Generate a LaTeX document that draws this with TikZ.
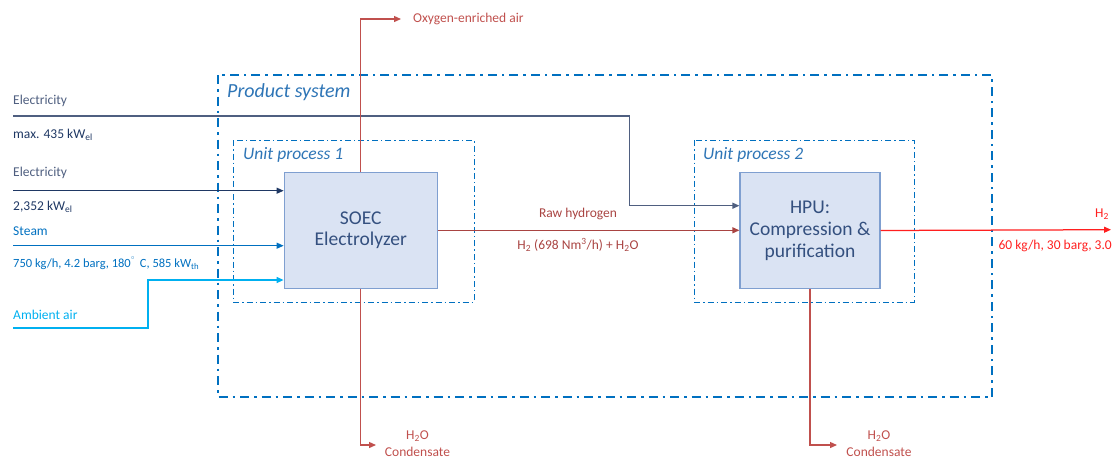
\documentclass[tikz,border=0pt]{standalone}
\usepackage{fontspec}
\setmainfont{Carlito}
\usetikzlibrary{arrows.meta}
\definecolor{psblue}{HTML}{0070C0}
\definecolor{uplabel}{HTML}{2E75B6}
\definecolor{boxfill}{HTML}{DAE3F3}
\definecolor{boxdraw}{HTML}{7F9FD0}
\definecolor{boxtext}{HTML}{34507F}
\definecolor{elecA}{HTML}{4F5F80}
\definecolor{elecB}{HTML}{1F3864}
\definecolor{steamc}{HTML}{0070C0}
\definecolor{airc}{HTML}{00B0F0}
\definecolor{redc}{HTML}{C0504D}
\definecolor{rawc}{HTML}{A94442}
\definecolor{h2c}{HTML}{FF1F1F}
\tikzset{
  tip/.style={-{Triangle[length=7pt,width=6pt]}},
  flow/.style={line width=1.25pt},
  lbl/.style={font=\fontsize{13.5}{15}\selectfont, inner sep=0pt},
  psys/.style={draw=psblue, line width=2.8pt, dash pattern=on 9pt off 5pt on 2.5pt off 5pt},
  uproc/.style={draw=psblue, line width=1pt, dash pattern=on 6pt off 3pt on 1.5pt off 3pt},
  procbox/.style={draw=boxdraw, fill=boxfill, line width=1.2pt, text=boxtext, align=center,
    font=\fontsize{19.5}{22}\selectfont},
}
\begin{document}
\begin{tikzpicture}[x=1pt,y=-1pt]
\useasboundingbox (0,0) rectangle (1113,459);
% system boundaries
\draw[psys] (218,75) rectangle (992,397);
\node[anchor=west, text=uplabel, font=\fontsize{20}{22}\selectfont\itshape, inner sep=0pt] (pslbl) at (227,92) {Product system};
\draw[uproc] (233,140) rectangle (474,302);
\node[anchor=west, text=uplabel, font=\fontsize{17.5}{20}\selectfont\itshape, inner sep=0pt] (up1) at (243,155) {Unit process 1};
\draw[uproc] (694,140) rectangle (914,302);
\node[anchor=west, text=uplabel, font=\fontsize{17.5}{20}\selectfont\itshape, inner sep=0pt] (up2) at (703,155) {Unit process 2};
% process boxes
\node[procbox, minimum width=153pt, minimum height=116pt] (soec) at (360.7,230.3) {SOEC\\[-1pt]Electrolyzer};
\node[procbox, minimum width=140pt, minimum height=116pt, font=\fontsize{19.5}{22}\selectfont] (hpu) at (810,230.5) {HPU:\\Compression \&\\purification};
% free ends
\coordinate (e1s) at (13,116);
\coordinate (e1b) at (629.5,205.7);
\coordinate (e2s) at (13,190.7);
\coordinate (sts) at (13,245.7);
\coordinate (ais) at (13,328);
\coordinate (aib) at (148,280);
\coordinate (oxe) at (401,19);
\coordinate (c1e) at (376,445);
\coordinate (c2e) at (837,445);
\coordinate (h2e) at (1111,229.7);
% connectors
\draw[flow, draw=elecA, tip] (e1s) -| (e1b) -- (e1b -| hpu.west);
\draw[flow, draw=elecB, tip] (e2s) -- (e2s -| soec.west);
\draw[flow, draw=steamc, tip] (sts) -- (sts -| soec.west);
\draw[flow, draw=airc, tip] (ais) -| (aib) -- (aib -| soec.west);
\draw[flow, draw=redc, tip] (soec.north) -- (soec.north |- oxe) -- (oxe);
\draw[flow, draw=redc, tip] (soec.south) -- (soec.south |- c1e) -- (c1e);
\draw[flow, draw=rawc, tip] (soec.east) -- (soec.east -| hpu.west);
\draw[flow, draw=redc, tip] (hpu.south) -- (hpu.south |- c2e) -- (c2e);
\draw[flow, draw=h2c, tip] (hpu.east) -- (h2e);
% labels
\node[lbl, anchor=west, text=elecA] (l1) at (13,101) {Electricity};
\node[lbl, anchor=west, text=elecB] (l2) at (13,135) {max. 435 kW\textsubscript{el}};
\node[lbl, anchor=west, text=elecA] (l3) at (13,173) {Electricity};
\node[lbl, anchor=west, text=elecB] (l4) at (13,207) {2,352 kW\textsubscript{el}};
\node[lbl, anchor=west, text=steamc] (l5) at (13,231) {Steam};
\node[lbl, anchor=west, text=steamc, font=\fontsize{12.5}{15}\selectfont] (l6) at (13,263) {750 kg/h, 4.2 barg, 180\textsuperscript{$^\circ$}\hspace{0.35em}C, 585 kW\textsubscript{th}};
\node[lbl, anchor=west, text=airc] (l7) at (13,315) {Ambient air};
\node[lbl, anchor=west, text=redc] (l8) at (413,19) {Oxygen-enriched air};
\node[lbl, text=rawc] (l9) at (578,214) {Raw hydrogen};
\node[lbl, text=rawc] (l10) at (578,245) {H\textsubscript{2} (698 Nm\textsuperscript{3}/h) + H\textsubscript{2}O};
\node[lbl, anchor=east, text=h2c] (l11) at (1109,214) {H\textsubscript{2}};
\node[lbl, anchor=east, text=h2c] (l12) at (1112,246) {60 kg/h, 30 barg, 3.0};
\node[lbl, text=redc] (l13) at (417.5,436) {H\textsubscript{2}O};
\node[lbl, text=redc] (l14) at (417.5,452) {Condensate};
\node[lbl, text=redc] (l15) at (879,436) {H\textsubscript{2}O};
\node[lbl, text=redc] (l16) at (879,452) {Condensate};
\end{tikzpicture}
\end{document}
